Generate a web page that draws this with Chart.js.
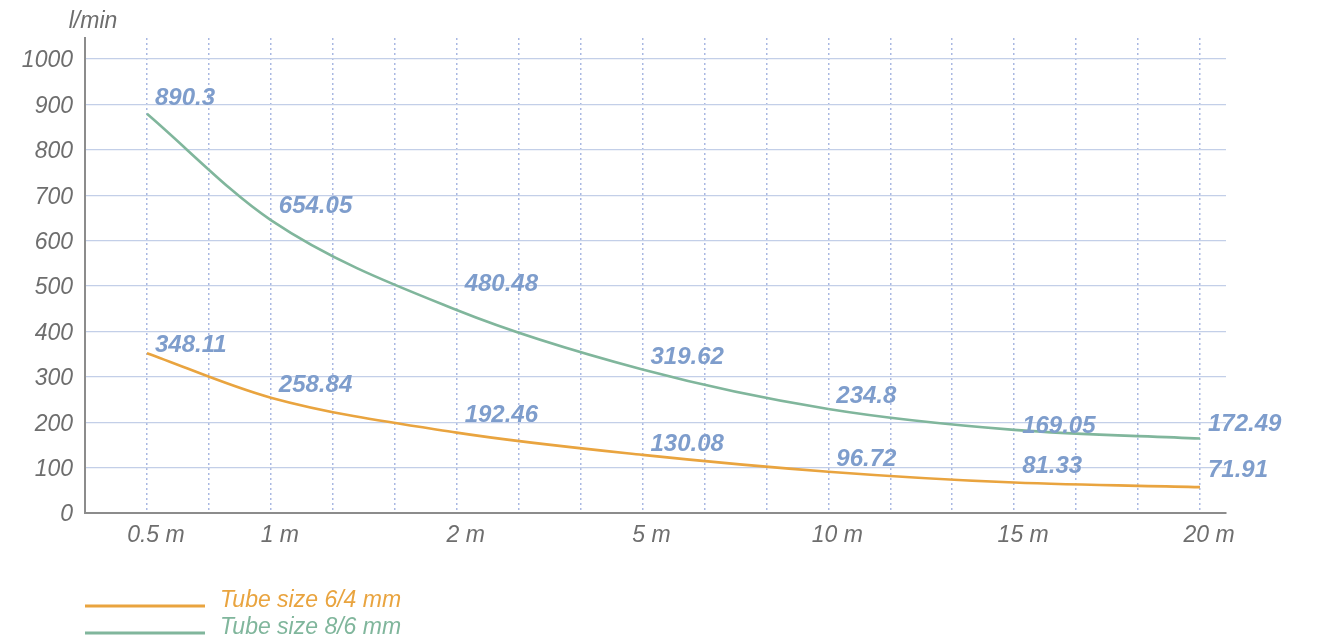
<!DOCTYPE html>
<html>
<head>
<meta charset="utf-8">
<script src="https://cdn.jsdelivr.net/npm/chart.js@4.4.1/dist/chart.umd.min.js"></script>
<style>
html,body{margin:0;padding:0;background:#fff;}
#wrap{width:1319px;height:644px;}
</style>
</head>
<body>
<div id="wrap"><canvas id="c" width="1319" height="644"></canvas></div>
<script>
// ---- data ----
const distanceLabels = ['0.5 m', '1 m', '2 m', '5 m', '10 m', '15 m', '20 m'];
const distanceSlots = [0, 2, 5, 8, 11, 14, 17]; // grid slot of each distance on the (non-linear) axis
// printed values (labels in the chart)
const tube64Printed = [348.11, 258.84, 192.46, 130.08, 96.72, 81.33, 71.91];
const tube86Printed = [890.3, 654.05, 480.48, 319.62, 234.8, 169.05, 172.49];
// drawn curve values at each distance
const tube64Curve = [352, 254, 177, 128, 91, 67, 57];
const tube86Curve = [879, 645, 447, 316, 229, 183, 164];
const seriesNames = ['Tube size 6/4 mm', 'Tube size 8/6 mm'];
const yTicks = [0, 100, 200, 300, 400, 500, 600, 700, 800, 900, 1000];
const unitLabel = 'l/min';

const ORANGE = '#e9a43f';
const GREEN = '#80b69c';
const LABEL_BLUE = '#7e9dcc';
const TICK_GRAY = '#6e6e6e';
const FONT = '"Liberation Sans", Arial, sans-serif';

const toPoints = vals => vals.map((v, i) => ({x: distanceSlots[i], y: v}));

const extras = {
  id: 'extras',
  afterDatasetsDraw(chart) {
    const ctx = chart.ctx;
    const xs = chart.scales.x, ys = chart.scales.y;
    ctx.save();
    // value labels
    ctx.font = 'italic bold 24px ' + FONT;
    ctx.fillStyle = LABEL_BLUE;
    ctx.textAlign = 'left';
    ctx.textBaseline = 'middle';
    chart.data.datasets.forEach(ds => {
      ds.printed.forEach((v, i) => {
        ctx.fillText(String(v), xs.getPixelForValue(distanceSlots[i]) + 8, ys.getPixelForValue(v) - 10);
      });
    });
    // unit title
    ctx.font = 'italic 23px ' + FONT;
    ctx.fillStyle = TICK_GRAY;
    ctx.textAlign = 'center';
    ctx.fillText(unitLabel, 93, 22);
    // legend
    const L = chart.chartArea.left;
    chart.data.datasets.forEach((ds, i) => {
      const y = 606 + i * 27;
      ctx.strokeStyle = ds.borderColor;
      ctx.lineWidth = 3;
      ctx.beginPath();
      ctx.moveTo(L, y);
      ctx.lineTo(L + 120, y);
      ctx.stroke();
      ctx.font = 'italic 23px ' + FONT;
      ctx.fillStyle = ds.borderColor;
      ctx.textAlign = 'left';
      ctx.textBaseline = 'middle';
      ctx.fillText(ds.label, L + 135, y - 5);
    });
    ctx.restore();
  }
};

new Chart(document.getElementById('c'), {
  type: 'line',
  data: {
    datasets: [
      {label: seriesNames[0], data: toPoints(tube64Curve), printed: tube64Printed, borderColor: ORANGE, borderWidth: 2.6,
       pointRadius: 0, cubicInterpolationMode: 'monotone', fill: false},
      {label: seriesNames[1], data: toPoints(tube86Curve), printed: tube86Printed, borderColor: GREEN, borderWidth: 2.6,
       pointRadius: 0, cubicInterpolationMode: 'monotone', fill: false}
    ]
  },
  options: {
    responsive: false,
    animation: false,
    layout: {padding: {top: 38, right: 93, bottom: 81, left: 0}},
    plugins: {legend: {display: false}, tooltip: {enabled: false}},
    scales: {
      x: {
        type: 'linear',
        min: -1,
        max: 17.42,
        afterBuildTicks(scale) {
          const t = [];
          for (let i = 0; i <= 17; i++) t.push({value: i});
          scale.ticks = t;
        },
        afterFit(scale) { scale.height = 50; },
        ticks: {
          autoSkip: false,
          maxRotation: 0,
          padding: 9,
          labelOffset: 9,
          color: TICK_GRAY,
          font: {family: FONT, size: 23, style: 'italic'},
          callback(v) {
            const k = distanceSlots.indexOf(v);
            return k >= 0 ? distanceLabels[k] : '';
          }
        },
        grid: {color: '#a9b8e2', lineWidth: 1.5, drawTicks: false},
        border: {display: true, color: '#8c8c8c', width: 2, dash: [2, 3]}
      },
      y: {
        min: 0,
        max: 1046,
        afterBuildTicks(scale) { scale.ticks = yTicks.map(v => ({value: v})); },
        afterFit(scale) { scale.width = 85; },
        ticks: {
          padding: 12,
          labelOffset: 2,
          color: TICK_GRAY,
          font: {family: FONT, size: 23, style: 'italic'},
          callback: v => String(v)
        },
        grid: {color: '#c3cfe8', lineWidth: 1.2, drawTicks: false},
        border: {display: true, color: '#8c8c8c', width: 2}
      }
    }
  },
  plugins: [extras]
});
</script>
</body>
</html>
